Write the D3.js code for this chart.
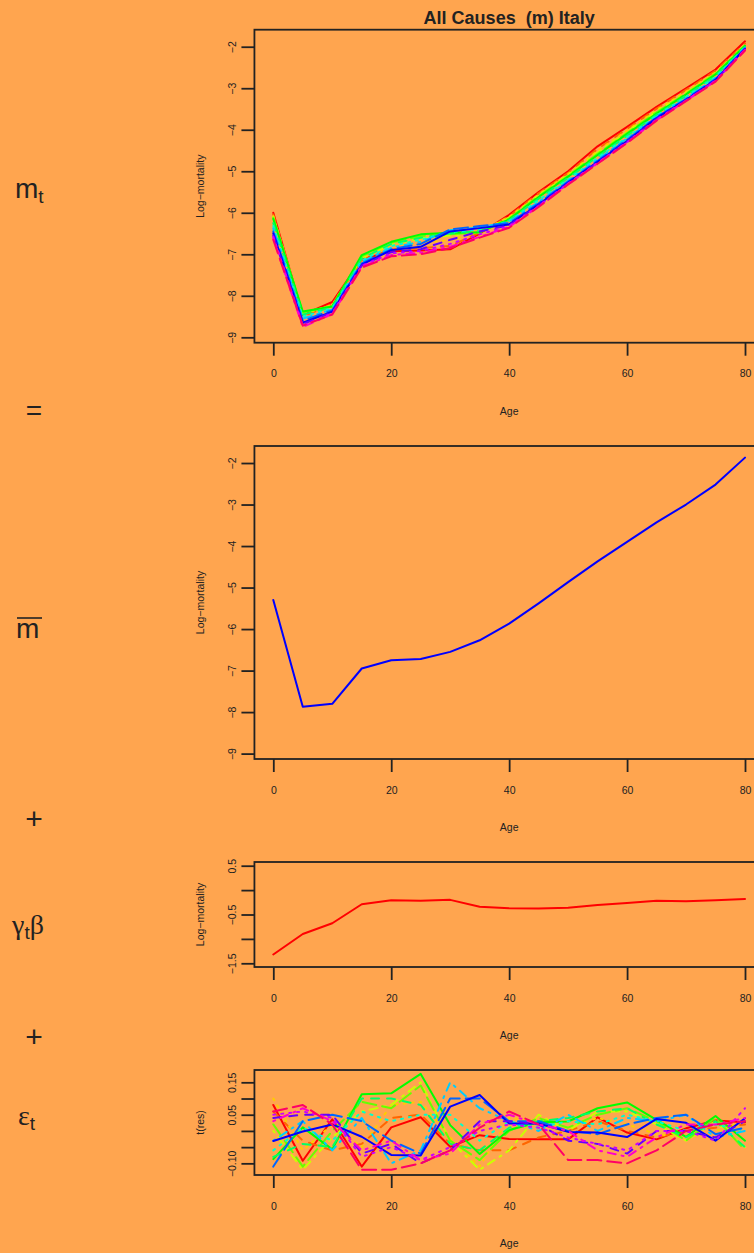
<!DOCTYPE html>
<html>
<head>
<meta charset="utf-8">
<script src="https://cdn.jsdelivr.net/npm/d3@7"></script>
<style>
  body { margin: 0; background: #FFA54F; }
  svg text { font-family: "Liberation Sans", Arial, sans-serif; fill: #222; }
</style>
</head>
<body>
<div id="chart"></div>
<script>
// ages (x axis) shared by every panel
var ages = [0, 5, 10, 15, 20, 25, 30, 35, 40, 45, 50, 55, 60, 65, 70, 75, 80];

// observed log-mortality, one row per year (15 years, rainbow order)
var mtYears = [
  [-6.00,-8.46,-8.15,-7.12,-6.93,-6.91,-6.88,-6.50,-6.05,-5.50,-5.00,-4.40,-3.93,-3.45,-3.00,-2.55,-1.87],
  [-6.04,-8.50,-8.20,-7.15,-6.88,-6.85,-6.80,-6.48,-6.08,-5.53,-5.04,-4.46,-3.98,-3.49,-3.04,-2.58,-1.92],
  [-6.08,-8.44,-8.22,-7.10,-6.80,-6.72,-6.66,-6.45,-6.10,-5.56,-5.07,-4.51,-4.02,-3.53,-3.08,-2.62,-1.95],
  [-6.10,-8.42,-8.24,-7.08,-6.76,-6.62,-6.55,-6.48,-6.12,-5.58,-5.09,-4.55,-4.05,-3.56,-3.11,-2.64,-1.96],
  [-6.12,-8.40,-8.25,-7.05,-6.72,-6.56,-6.52,-6.47,-6.14,-5.60,-5.11,-4.58,-4.08,-3.58,-3.13,-2.65,-1.97],
  [-6.15,-8.38,-8.26,-7.02,-6.70,-6.52,-6.48,-6.47,-6.16,-5.62,-5.13,-4.61,-4.10,-3.61,-3.15,-2.67,-1.98],
  [-6.25,-8.45,-8.28,-7.10,-6.75,-6.60,-6.50,-6.44,-6.18,-5.66,-5.16,-4.65,-4.14,-3.64,-3.18,-2.70,-2.00],
  [-6.32,-8.50,-8.30,-7.15,-6.80,-6.65,-6.47,-6.40,-6.20,-5.70,-5.20,-4.68,-4.18,-3.66,-3.21,-2.73,-2.01],
  [-6.38,-8.55,-8.33,-7.18,-6.84,-6.70,-6.42,-6.35,-6.22,-5.74,-5.23,-4.72,-4.21,-3.69,-3.24,-2.76,-2.03],
  [-6.45,-8.60,-8.35,-7.22,-6.88,-6.75,-6.40,-6.32,-6.25,-5.77,-5.25,-4.75,-4.24,-3.70,-3.26,-2.78,-2.04],
  [-6.50,-8.65,-8.38,-7.25,-6.90,-6.82,-6.45,-6.37,-6.28,-5.80,-5.27,-4.77,-4.27,-3.72,-3.28,-2.80,-2.05],
  [-6.55,-8.68,-8.40,-7.27,-6.95,-6.88,-6.65,-6.45,-6.30,-5.82,-5.29,-4.79,-4.29,-3.74,-3.29,-2.81,-2.06],
  [-6.58,-8.72,-8.42,-7.28,-6.98,-6.92,-6.75,-6.52,-6.32,-5.84,-5.30,-4.80,-4.30,-3.76,-3.30,-2.82,-2.07],
  [-6.62,-8.75,-8.44,-7.30,-7.02,-6.96,-6.82,-6.58,-6.34,-5.85,-5.31,-4.81,-4.31,-3.77,-3.30,-2.83,-2.08],
  [-6.65,-8.72,-8.45,-7.32,-7.05,-7.00,-6.85,-6.60,-6.36,-5.86,-5.32,-4.82,-4.32,-3.78,-3.31,-2.84,-2.09]
];

// mean log-mortality
var meanMort = [-5.30,-7.87,-7.80,-6.95,-6.75,-6.72,-6.55,-6.27,-5.87,-5.38,-4.87,-4.37,-3.90,-3.43,-3.00,-2.52,-1.87];

// gamma_t * beta term
var gammaBeta = [-1.32,-0.90,-0.68,-0.29,-0.21,-0.22,-0.20,-0.34,-0.37,-0.375,-0.36,-0.305,-0.265,-0.22,-0.23,-0.21,-0.18];

// residuals, one row per year
var residYears = [
  [0.080,-0.092,0.036,-0.110,0.011,0.042,-0.049,-0.013,-0.025,-0.026,-0.026,0.042,-0.005,-0.026,0.008,0.032,0.027],
  [0.06,-0.03,-0.06,-0.04,0.04,0.05,-0.04,-0.06,-0.06,-0.02,0.00,0.03,0.00,-0.02,0.00,0.01,0.02],
  [0.10,-0.06,0.02,-0.05,0.08,0.09,-0.02,-0.11,0.04,0.03,0.01,0.04,0.02,-0.01,-0.02,0.00,0.03],
  [0.00,-0.12,-0.02,0.06,0.08,0.15,-0.03,-0.12,-0.06,0.05,0.00,0.06,0.06,0.02,-0.03,0.03,-0.05],
  [0.02,-0.11,0.00,0.09,0.07,0.14,-0.03,-0.09,0.00,0.04,0.01,0.05,0.07,0.03,-0.03,0.04,-0.06],
  [-0.087,0.011,-0.057,0.113,0.116,0.176,0.018,-0.071,0.003,0.027,0.029,0.070,0.088,0.034,-0.018,0.046,-0.030],
  [-0.08,-0.04,-0.05,0.10,0.10,0.08,-0.04,-0.06,0.01,0.03,0.04,0.06,0.07,0.02,-0.02,0.03,-0.05],
  [-0.06,0.01,-0.03,0.06,0.03,0.05,0.05,-0.03,0.03,0.01,0.03,0.02,0.05,0.03,0.00,0.02,0.00],
  [-0.03,0.03,-0.06,0.04,-0.10,-0.06,0.15,0.07,0.03,0.00,0.05,0.00,0.04,0.03,0.05,-0.02,0.00],
  [-0.11,0.03,0.05,0.03,-0.03,-0.07,0.10,0.10,0.03,0.03,0.00,-0.01,0.02,0.04,0.05,-0.01,0.01],
  [-0.031,-0.002,0.020,-0.018,-0.074,-0.076,0.075,0.111,0.023,0.023,-0.003,-0.005,-0.019,0.037,0.025,-0.030,0.039],
  [0.04,0.05,0.05,-0.07,-0.04,-0.10,-0.06,0.03,0.03,0.02,-0.03,-0.04,-0.07,0.00,0.00,-0.02,0.03],
  [0.05,0.06,0.04,-0.08,-0.05,-0.09,-0.05,0.00,0.02,0.01,-0.02,-0.04,-0.06,0.00,0.00,-0.03,0.07],
  [0.03,0.07,0.03,-0.06,-0.03,-0.09,-0.07,0.02,0.05,0.02,0.00,-0.06,-0.08,-0.02,0.02,0.02,0.04],
  [0.06,0.08,0.02,-0.12,-0.12,-0.10,-0.06,0.01,0.06,0.02,-0.09,-0.09,-0.10,-0.06,0.00,0.02,0.03]
];

var yearColors = ["#FF0000","#FF6600","#FFCC00","#CCFF00","#66FF00","#00FF00","#00FF66","#00FFCC",
                  "#00CCFF","#0066FF","#0000FF","#6600FF","#CC00FF","#FF00CC","#FF0066"];
var lineTypes = ["solid","dashed","dotted","dotdash","longdash"];

var xTicks = [0, 20, 40, 60, 80];
var mortTicks = [-9, -8, -7, -6, -5, -4, -3, -2];
var gbTicks = [-1.5, -1, -0.5, 0, 0.5];
var gbLabels = [-1.5, -0.5, 0.5];
var resTicks = [-0.10, -0.05, 0, 0.05, 0.10, 0.15];
var resLabels = [-0.10, 0.05, 0.15];

var title = "All Causes  (m) Italy";

var width = 754, height = 1253;

var svg = d3.select("#chart").append("svg")
    .attr("width", width)
    .attr("height", height);

svg.append("rect")
    .attr("width", width)
    .attr("height", height)
    .attr("fill", "#FFA54F");

// x scale, R style 4% extension on both sides
var x = d3.scaleLinear().domain([0, 80]).range([273.3, 745]);
var xLo = x(-3.2), xHi = x(83.2);

var dashes = {
  solid: null,
  dashed: "8,8",
  dotted: "2,6",
  dotdash: "2,6,8,6",
  longdash: "14,6"
};

function fmt(v) {
  return d3.format(".2f")(v).replace("-", "\u2212");
}

function drawPanel(cfg) {
  var y = d3.scaleLinear().domain(cfg.ydom).range([cfg.bottom, cfg.top]);
  var g = svg.append("g");

  var line = d3.line()
      .x(function(d, i) { return x(ages[i]); })
      .y(function(d) { return y(d); });

  cfg.series.forEach(function(s, i) {
    g.append("path")
      .attr("d", line(s))
      .attr("fill", "none")
      .attr("stroke", cfg.colors[i])
      .attr("stroke-width", 2)
      .attr("stroke-linecap", "round")
      .attr("stroke-linejoin", "round")
      .attr("stroke-dasharray", dashes[cfg.ltys[i]]);
  });

  g.append("rect")
    .attr("x", xLo)
    .attr("y", cfg.top)
    .attr("width", xHi - xLo)
    .attr("height", cfg.bottom - cfg.top)
    .attr("fill", "none")
    .attr("stroke", "#222")
    .attr("stroke-width", 1.8);

  // bottom axis
  var xa = g.append("g")
    .attr("transform", "translate(0," + cfg.bottom + ")")
    .call(d3.axisBottom(x).tickValues(xTicks).tickSize(13).tickSizeOuter(0));
  xa.select(".domain").remove();
  xa.selectAll("line").attr("stroke", "#222").attr("stroke-width", 1.8);
  xa.selectAll("text")
    .attr("y", 34.5).attr("dy", null)
    .style("font-size", "10.5px")
    .style("font-family", "'Liberation Sans', Arial, sans-serif")
    .attr("fill", "#222");

  // left axis, labels parallel to the axis
  var labels = cfg.labels;
  var ya = g.append("g")
    .attr("transform", "translate(" + xLo + ",0)")
    .call(d3.axisLeft(y).tickValues(cfg.ticks).tickSize(13).tickSizeOuter(0)
      .tickFormat(function(d) {
        if (labels && labels.indexOf(d) < 0) return "";
        return cfg.format ? cfg.format(d) : String(d).replace("-", "\u2212");
      }));
  ya.select(".domain").remove();
  ya.selectAll("line").attr("stroke", "#222").attr("stroke-width", 1.8);
  ya.selectAll("text")
    .attr("x", null).attr("dy", null)
    .attr("text-anchor", "middle")
    .attr("transform", "translate(-18,0) rotate(-90)")
    .style("font-size", "10.5px")
    .style("font-family", "'Liberation Sans', Arial, sans-serif")
    .attr("fill", "#222");

  g.append("text")
    .attr("x", x(40))
    .attr("y", cfg.bottom + 72)
    .attr("text-anchor", "middle")
    .style("font-size", "10.5px")
    .text("Age");

  g.append("text")
    .attr("transform", "translate(204," + ((cfg.top + cfg.bottom) / 2) + ") rotate(-90)")
    .attr("text-anchor", "middle")
    .style("font-size", "10.5px")
    .text(cfg.ylab);
}

var allLtys = yearColors.map(function(c, i) { return lineTypes[i % 5]; });

drawPanel({
  top: 29.7, bottom: 342.7, ydom: [-9.13, -1.59],
  ticks: mortTicks, series: mtYears, colors: yearColors, ltys: allLtys,
  ylab: "Log\u2212mortality"
});

drawPanel({
  top: 446, bottom: 759, ydom: [-9.13, -1.59],
  ticks: mortTicks, series: [meanMort], colors: ["#0000FF"], ltys: ["solid"],
  ylab: "Log\u2212mortality"
});

drawPanel({
  top: 862, bottom: 967, ydom: [-1.576, 0.576],
  ticks: gbTicks, labels: gbLabels, series: [gammaBeta], colors: ["#FF0000"], ltys: ["solid"],
  ylab: "Log\u2212mortality"
});

drawPanel({
  top: 1070, bottom: 1175, ydom: [-0.136, 0.188],
  ticks: resTicks, labels: resLabels, format: fmt,
  series: residYears, colors: yearColors, ltys: allLtys,
  ylab: "t(res)"
});

svg.append("text")
  .attr("x", (xLo + xHi) / 2)
  .attr("y", 24)
  .attr("text-anchor", "middle")
  .style("font-size", "18px")
  .style("font-weight", "bold")
  .style("white-space", "pre")
  .text(title);

// left column: the decomposition
var serif = "'Liberation Serif', 'DejaVu Serif', serif";

var t1 = svg.append("text").attr("x", 15).attr("y", 198).style("font-size", "28px");
t1.append("tspan").text("m");
t1.append("tspan").attr("dy", 5).style("font-size", "19px").text("t");

svg.append("text").attr("x", 34).attr("y", 420).attr("text-anchor", "middle")
  .style("font-size", "28px").text("=");

svg.append("text").attr("x", 16).attr("y", 638).style("font-size", "28px").text("m");
svg.append("line").attr("x1", 17).attr("x2", 42).attr("y1", 618).attr("y2", 618)
  .attr("stroke", "#222").attr("stroke-width", 1.6);

svg.append("text").attr("x", 34).attr("y", 829).attr("text-anchor", "middle")
  .style("font-size", "30px").text("+");

var t3 = svg.append("text").attr("x", 12).attr("y", 934).style("font-size", "28px");
t3.append("tspan").style("font-family", serif).text("\u03B3");
t3.append("tspan").attr("dy", 5).style("font-size", "19px").text("t");
t3.append("tspan").attr("dy", -5).style("font-family", serif).text("\u03B2");

svg.append("text").attr("x", 34).attr("y", 1047).attr("text-anchor", "middle")
  .style("font-size", "30px").text("+");

var t4 = svg.append("text").attr("x", 18).attr("y", 1125).style("font-size", "28px");
t4.append("tspan").style("font-family", serif).text("\u03B5");
t4.append("tspan").attr("dy", 5).style("font-size", "19px").text("t");
</script>
</body>
</html>
